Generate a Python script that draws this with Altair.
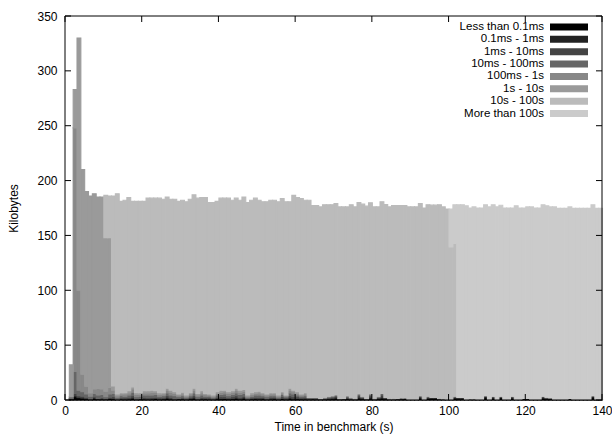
import altair as alt
import pandas as pd

categories = ["Less than 0.1ms", "0.1ms - 1ms", "1ms - 10ms", "10ms - 100ms",
              "100ms - 1s", "1s - 10s", "10s - 100s", "More than 100s"]
colors = ["#000000", "#222222", "#444444", "#666666",
          "#888888", "#9a9a9a", "#bbbbbb", "#cbcbcb"]

x_ticks = [0, 20, 40, 60, 80, 100, 120, 140]
y_ticks = [0, 50, 100, 150, 200, 250, 300, 350]

time_start = list(range(140))

# top of each column (kB)
totals = [
    0, 32, 283, 330, 210, 190, 186, 188, 185, 185,
    186.5, 186, 186, 188, 181, 182, 184.6, 181, 181, 181,
    181, 184, 184, 184, 184, 183, 185, 183, 183, 181,
    182, 180.6, 183, 187, 184, 184.6, 184.6, 180, 180, 181,
    184, 184, 184, 182, 184, 182, 185, 180, 182, 184,
    182, 180.7, 180.7, 182, 182, 180.7, 183.5, 180.7, 180.7, 186.5,
    184.6, 183.7, 182, 182, 177.3, 177.3, 176, 178, 178, 178,
    179, 176, 176, 176, 178, 176, 180, 178.5, 176.7, 179.7,
    176, 176, 180.7, 178.2, 176, 177.3, 177.3, 177.3, 177.3, 176,
    176, 176, 179, 175, 178, 177.6, 177.6, 178, 176, 174,
    174, 178, 178, 178, 177, 175, 176, 175, 175, 178,
    176, 178, 176, 177.5, 175, 175, 175, 177, 175, 175,
    176, 176, 175, 175, 178, 177, 176, 176, 174.7, 174.7,
    174.7, 176, 174.7, 174.7, 174.7, 174.7, 174.7, 178, 174.7, 174.7,
]

lt_01ms = [
    0, 1, 3, 2, 1.5, 1, 0.5, 1.5, 1, 1,
    1, 1.5, 1, 0.5, 1, 0.5, 1, 1.5, 0.5, 1,
    1, 0.5, 1, 1.5, 0.5, 1, 1.5, 1, 0.5, 1,
    1, 0.5, 1, 1.5, 0.5, 1, 1, 0.5, 0.5, 1,
    1, 1.5, 1, 1, 1.5, 1, 1.5, 0.5, 1, 1,
    1, 1, 0.5, 1, 1, 0.5, 1.5, 0.5, 1.5, 1,
    1, 1, 1, 0.5, 1, 0.5, 0.5, 0.5, 1, 1,
    1.5, 0.5, 0.5, 1, 0.5, 0.5, 1.5, 1, 0.5, 1.5,
    0.5, 1, 1.5, 1, 0.5, 0.5, 0.5, 1, 1, 0.6,
    0.6, 0.6, 1.5, 0.6, 1.5, 1.5, 1.5, 0.7, 0.5, 0.6,
    0.6, 1.5, 1, 1, 0.6, 0.5, 0.5, 0.6, 0.6, 2,
    0.6, 1.5, 0.6, 2, 0.6, 0.6, 1.5, 0.6, 0.6, 1,
    1, 0.6, 0.6, 0.6, 1.5, 1, 1, 0.6, 0.6, 0.6,
    0.6, 1, 0.5, 0.5, 0.5, 0.5, 0.5, 2, 0.5, 0.5,
]

ms01_1 = [
    0, 0, 1, 0.5, 0.5, 0.5, 0, 0.5, 0, 0,
    0, 0, 0.5, 0, 0, 0.5, 0, 0.5, 0, 0,
    0, 0.5, 0, 0, 0.5, 0, 0.5, 0, 0, 0,
    0, 0, 0.5, 0.5, 0, 0, 0, 0.5, 0, 0.5,
    0.5, 0, 0, 0.5, 0.5, 0, 0.5, 0, 0, 0.5,
    0, 0.5, 0, 0, 0.5, 0, 0, 0.5, 0.5, 0,
    0.5, 0, 0, 0.5, 0, 0.5, 0, 0.5, 0, 0.5,
    0.5, 0, 0.5, 0.5, 0.5, 0, 1, 0.5, 0, 1,
    0, 0.5, 1, 0.5, 0, 0, 0.5, 0, 0.5, 0,
    0, 0, 1, 0, 0.5, 0.5, 0.5, 0.5, 0.5, 0,
    0, 1, 0.9, 0.9, 0, 0.5, 0.5, 0, 0, 1.7,
    0, 1.5, 0, 1, 0, 0, 1.5, 0, 0, 0.5,
    0.5, 0, 0, 0, 1.5, 1, 0.8, 0, 0, 0,
    0, 0.5, 0, 0, 0, 0, 0, 1.7, 0, 0,
]

ms1_10 = [
    0, 0.5, 2, 1.5, 1.5, 1, 1, 1, 0.5, 1,
    0, 1, 1.5, 0.5, 1, 1, 1.5, 2, 1, 0.5,
    1.5, 1, 1.5, 1, 1, 1, 2, 1.5, 1, 0.5,
    1, 1, 1, 2, 1, 1.5, 1, 1, 1, 1,
    1.5, 1.5, 1, 1.5, 2, 1.5, 1.5, 1, 1, 1,
    1.5, 1, 1, 1.5, 1, 1, 1.5, 1, 2, 2,
    1.5, 1, 1.5, 0.5, 0.5, 0.5, 0.5, 0.5, 1, 1,
    1.5, 0.5, 0.5, 1, 0.5, 0.7, 1.5, 1, 0.5, 1.5,
    0.7, 1, 2, 0.9, 0.7, 0.7, 0.5, 0.8, 0.3, 0,
    0, 0, 1.2, 0, 1, 0.4, 0.4, 0, 0, 0,
    0, 0.5, 0.5, 0.5, 0, 0, 0, 0, 0, 0,
] + [0] * 30

ms10_100 = [
    0, 1.5, 20, 5, 4, 3, 2, 3, 3, 3,
    2, 3, 3, 1.5, 2, 1.5, 2, 3, 1.5, 2,
    2, 2.5, 2, 2.5, 1.5, 2, 2.5, 2, 2.5, 1.5,
    2, 1, 1.5, 2.5, 1.5, 2, 1.5, 1.5, 1, 2,
    2, 2.5, 2, 2, 2.5, 2.5, 2.5, 1, 1.5, 2,
    2, 1.5, 1.5, 1.5, 1.5, 1, 2, 1, 2.5, 2.5,
    1.5, 1.5, 1.5, 0.9, 0.9, 0.9, 0.5, 0.5, 1, 1.2,
    1.1, 0.5, 0, 1.2, 0.5, 0, 1.5, 0.5, 0.5, 1.5,
    0, 0.5, 1.5, 0, 0, 0, 0, 0, 0, 0,
] + [0] * 50

ms100_1s = [
    0, 0, 222, 91, 16, 7, 3, 4, 6, 5,
    5, 6, 3, 1.5, 1.5, 2, 2, 3, 2, 1.5,
    2, 2, 2.5, 2, 1.5, 1.5, 2.5, 2.5, 2, 1.5,
    1.5, 1, 1.5, 2.5, 1.5, 2, 1.5, 1, 1, 1.5,
    2, 2, 2, 2, 2.5, 2, 2, 1, 1.5, 1.5,
    2, 1.5, 1.5, 1.5, 1.5, 1, 1.5, 1, 2.5, 2,
    1.5, 1, 1.5, 0, 0, 0, 0, 0, 0, 0,
] + [0] * 70

# bins 0-9: topmost layer, filled from the column top below
s1_10 = [0] * 10 + [
    140, 136.5, 3.8, 1.5, 1.2, 1.2, 2, 2, 1.7, 1.7,
    2, 2, 2, 1.5, 1.7, 1.2, 1.7, 2, 1.6, 1,
    1.5, 1.1, 1.2, 1.7, 1.5, 2, 1, 1, 1.1, 1.6,
    2, 1.5, 1.6, 1.5, 1.7, 2, 1.7, 1.1, 1.7, 1.6,
    1.5, 1.2, 1, 1.2, 1.2, 1.1, 1.1, 0.6, 1.7, 1.5,
    1.6, 1, 1.2, 0, 0, 0, 0, 0, 0, 0,
] + [0] * 70

# bins 10-99: topmost layer, filled from the column top below
s10_100 = [0] * 100 + [139, 139.6] + [0] * 38

# bins 100-139: topmost layer, filled from the column top below
gt_100s = [0] * 140

series = [lt_01ms, ms01_1, ms1_10, ms10_100, ms100_1s, s1_10, s10_100, gt_100s]
for i in range(140):
    top = 5 if i < 10 else (6 if i < 100 else 7)
    if totals[i] > 0:
        rest = sum(s[i] for k, s in enumerate(series) if k != top)
        series[top][i] = round(totals[i] - rest, 2)

rows = []
for ci, (cat, vals) in enumerate(zip(categories, series)):
    for t, v in zip(time_start, vals):
        if v > 0:
            rows.append({"t": t, "t2": t + 1, "cat": cat, "ci": ci, "kb": v})
df = pd.DataFrame(rows)

FONT = "Liberation Sans"
FS = 12
W, H = 537, 384
xscale = alt.Scale(domain=[0, 140], nice=False, zero=False)
yscale = alt.Scale(domain=[0, 350], nice=False)
cscale = alt.Scale(domain=categories, range=colors)

xaxis = alt.Axis(values=x_ticks, ticks=False, domain=False, grid=False,
                 labelPadding=5, title="Time in benchmark (s)",
                 titlePadding=5, labelFlush=False)

bars = alt.Chart(df).mark_bar(binSpacing=0, strokeWidth=1.1).encode(
    x=alt.X("t:Q", bin="binned", scale=xscale, axis=xaxis),
    x2="t2:Q",
    y=alt.Y("kb:Q", stack="zero", scale=yscale,
            axis=alt.Axis(values=y_ticks, ticks=False, domain=False, grid=False,
                          labelPadding=8, title="Kilobytes", titlePadding=16,
                          labelFlush=False)),
    color=alt.Color("cat:N", scale=cscale, legend=None),
    stroke=alt.Stroke("cat:N", scale=cscale, legend=None),
    order=alt.Order("ci:Q", sort="ascending"),
)

ydf = pd.DataFrame({"v": y_ticks})
xdf = pd.DataFrame({"v": x_ticks})
tl = 6
left_ticks = alt.Chart(ydf).mark_rule(color="black").encode(
    y=alt.Y("v:Q", scale=yscale, axis=None), x=alt.value(0), x2=alt.value(tl))
right_ticks = alt.Chart(ydf).mark_rule(color="black").encode(
    y=alt.Y("v:Q", scale=yscale, axis=None), x=alt.value(W - tl), x2=alt.value(W))
bottom_ticks = alt.Chart(xdf).mark_rule(color="black").encode(
    x=alt.X("v:Q", scale=xscale, axis=xaxis), y=alt.value(H - tl), y2=alt.value(H))
top_ticks = alt.Chart(xdf).mark_rule(color="black").encode(
    x=alt.X("v:Q", scale=xscale, axis=xaxis), y=alt.value(0), y2=alt.value(tl))

one = pd.DataFrame({"a": [0]})
border = alt.layer(
    alt.Chart(one).mark_rule(color="black").encode(
        x=alt.value(0), y=alt.value(0), y2=alt.value(H)),
    alt.Chart(one).mark_rule(color="black").encode(
        x=alt.value(W), y=alt.value(0), y2=alt.value(H)),
    alt.Chart(one).mark_rule(color="black").encode(
        y=alt.value(0), x=alt.value(0), x2=alt.value(W)),
    alt.Chart(one).mark_rule(color="black").encode(
        y=alt.value(H), x=alt.value(0), x2=alt.value(W)),
)

ldf = pd.DataFrame({"cat": categories})
lscale = alt.Scale(type="point", domain=categories, range=[11, 97.5], padding=0)
leg_text = alt.Chart(ldf).mark_text(align="right", baseline="middle",
                                    fontSize=11.5, font=FONT, color="black").encode(
    y=alt.Y("cat:N", scale=lscale, axis=None),
    x=alt.value(479),
    text="cat:N",
)
leg_sw = alt.Chart(ldf).mark_rule(strokeWidth=7, strokeCap="butt").encode(
    y=alt.Y("cat:N", scale=lscale, axis=None),
    x=alt.value(485), x2=alt.value(523),
    color=alt.Color("cat:N", scale=cscale, legend=None),
)

chart = alt.layer(
    bars, left_ticks, right_ticks, bottom_ticks, top_ticks, border, leg_text, leg_sw
).resolve_scale(y="independent").properties(
    width=W, height=H,
    autosize=alt.AutoSizeParams(type="none"),
    padding={"left": 65, "top": 16, "right": 10, "bottom": 37},
    background="white",
).configure_view(strokeWidth=0).configure_axis(
    labelFont=FONT, titleFont=FONT, labelFontSize=FS, titleFontSize=FS,
    labelColor="black", titleColor="black", titleFontWeight="normal",
)

chart.save("out.html", embed_options={"renderer": "svg", "actions": False})
